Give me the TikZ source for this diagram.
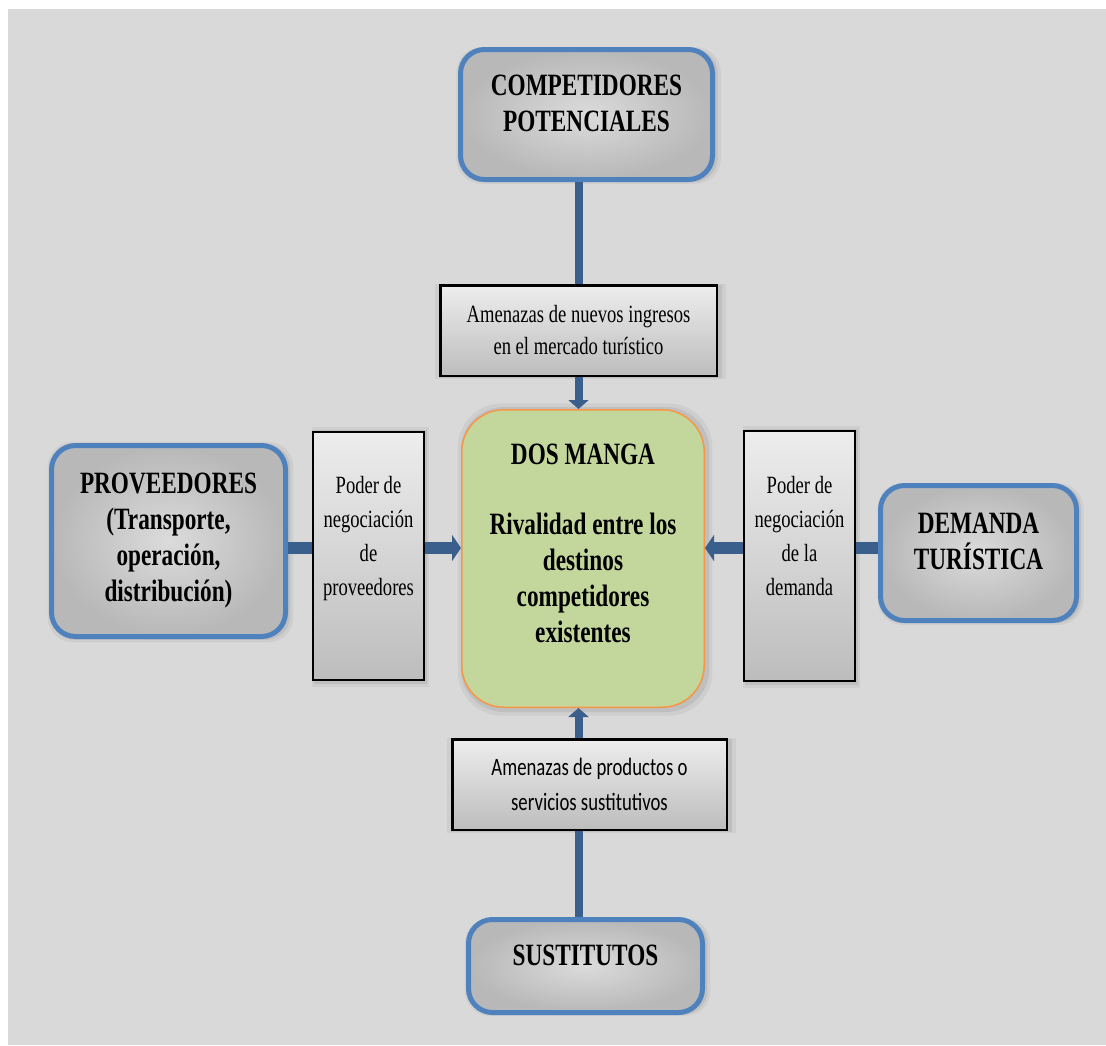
\documentclass[tikz,border=0pt]{standalone}
\usepackage{fontspec}
\setmainfont[FakeStretch=0.75]{Liberation Serif}
\newfontfamily\calibsans[FakeStretch=0.75]{Carlito}
\usetikzlibrary{positioning,arrows.meta,shadows}
\definecolor{bggray}{RGB}{217,217,217}
\definecolor{boxblue}{RGB}{79,129,189}
\definecolor{barblue}{RGB}{58,95,140}
\definecolor{coregreen}{RGB}{195,214,155}
\definecolor{coreorange}{RGB}{247,150,70}
\tikzset{
    softshadow/.style={drop shadow={shadow xshift=2pt, shadow yshift=-1pt, shadow scale=1.05, opacity=.12},
        drop shadow={shadow xshift=2pt, shadow yshift=-1pt, shadow scale=1.025, opacity=.18}},
    forcebox/.style={draw=boxblue, line width=5pt, rounded corners=24pt, inner color=white!86!black, outer color=white!72!black,
        softshadow, align=center, font=\fontsize{31}{36}\selectfont\bfseries},
    factorbox/.style={draw=black, line width=2.5pt, top color=white!93!black, bottom color=white!74!black,
        softshadow, align=center, font=\fontsize{24.8}{32}\selectfont},
    corebox/.style={draw=coreorange, line width=1.5pt, fill=coregreen, rounded corners=42pt,
        softshadow, align=center, font=\fontsize{31}{36}\selectfont\bfseries},
    vbar/.style={draw=barblue, line width=8pt},
    hbar/.style={draw=barblue, line width=12pt},
    vpush/.style={vbar, -{Triangle[width=20pt,length=9pt]}},
    hpush/.style={hbar, -{Triangle[width=26pt,length=9pt]}}
}
\begin{document}
\begin{tikzpicture}[x=1pt,y=-1pt]
        \useasboundingbox (0,0) rectangle (1106,1045);
        \fill[bggray] (8,9) rectangle (1106,1045);
        % las cinco fuerzas
        \node[forcebox, minimum width=252pt, minimum height=130pt] (potenciales) at (586.5,114.5) {COMPETIDORES\\POTENCIALES\\[-14pt]\mbox{}};
        \node[forcebox, minimum width=234pt, minimum height=191pt] (proveedores) at (168.5,541) {PROVEEDORES\\(Transporte,\\operación,\\distribución)};
        \node[forcebox, minimum width=196pt, minimum height=135pt] (demanda) at (978.5,553) {DEMANDA\\TURÍSTICA\\[-13pt]\mbox{}};
        \node[forcebox, minimum width=234pt, minimum height=93pt] (sustitutos) at (585.5,966) {SUSTITUTOS\\[-14pt]\mbox{}};
        % cajas intermedias
        \node[factorbox, minimum width=276.5pt, minimum height=90.5pt] (ingresos) at (578.5,330.5) {Amenazas de nuevos ingresos\\en el mercado turístico};
        \node[factorbox, minimum width=111pt, minimum height=248pt, font=\fontsize{24.8}{34}\selectfont] (negprov) at (368.5,556) {Poder de\\negociación\\de\\proveedores\\[6pt]\mbox{}};
        \node[factorbox, minimum width=111pt, minimum height=250pt, font=\fontsize{24.8}{34}\selectfont] (negdem) at (799.5,556) {Poder de\\negociación\\de la\\demanda\\[6pt]\mbox{}};
        \node[factorbox, minimum width=274.5pt, minimum height=90.5pt, font=\calibsans\fontsize{25}{35}\selectfont] (productos) at (589.5,784.5) {Amenazas de productos o\\servicios sustitutivos};
        % destino
        \node[corebox, minimum width=242.5pt, minimum height=297.5pt] (dosmanga) at (583,558.5) {DOS MANGA\\[34pt]Rivalidad entre los\\destinos\\competidores\\existentes\\[-6pt]\mbox{}};
        \coordinate (nivel) at (583,548);
        % conectores
        \draw[vbar] (ingresos.north |- potenciales.south) -- (ingresos.north);
        \draw[vpush] (ingresos.south) -- (ingresos.south |- dosmanga.north);
        \draw[vbar] (ingresos.south |- sustitutos.north) -- (ingresos.south |- productos.south);
        \draw[vpush] (ingresos.south |- productos.north) -- (ingresos.south |- dosmanga.south);
        \draw[hbar] (proveedores.east |- nivel) -- (negprov.west |- nivel);
        \draw[hpush] (negprov.east |- nivel) -- (dosmanga.west |- nivel);
        \draw[hbar] (demanda.west |- nivel) -- (negdem.east |- nivel);
        \draw[hpush] (negdem.west |- nivel) -- (dosmanga.east |- nivel);
\end{tikzpicture}
\end{document}
